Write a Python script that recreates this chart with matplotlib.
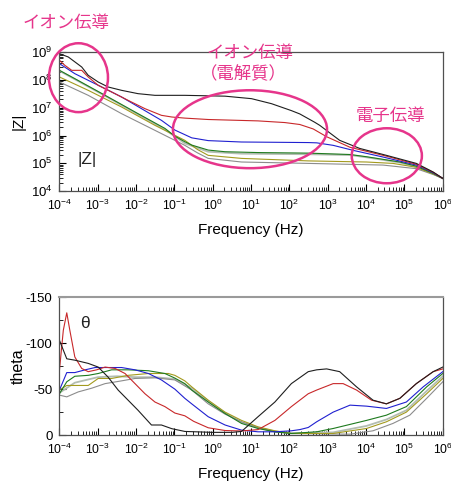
import numpy as np
import matplotlib
matplotlib.use("Agg")
import matplotlib.pyplot as plt
from matplotlib.patches import Ellipse
from matplotlib.ticker import LogLocator, MultipleLocator

plt.rcParams['font.family'] = ['Liberation Sans', 'DejaVu Sans']
plt.rcParams['mathtext.fontset'] = 'custom'
plt.rcParams['mathtext.rm'] = 'Liberation Sans'
plt.rcParams['mathtext.it'] = 'Liberation Sans:italic'
plt.rcParams['axes.unicode_minus'] = False

# ---- |Z| : log10(freq), log10(|Z|) ----
zf_black = [-4, -3.77, -3.42, -3.25, -2.99, -2.73, -2.38, -1.95, -1.51, -0.73, 0.32, 1.01, 1.53, 2.05, 2.27, 2.66, 2.79, 3.31, 3.83, 4.53, 5.31, 5.75, 6.0]
z_black = [8.95, 8.83, 8.47, 8.17, 7.93, 7.75, 7.63, 7.51, 7.45, 7.45, 7.42, 7.33, 7.15, 6.9, 6.78, 6.48, 6.37, 5.83, 5.54, 5.29, 5.0, 4.69, 4.46]

zf_red = [-4, -3.86, -3.68, -3.42, -3.25, -2.99, -2.64, -2.21, -1.77, -1.34, -1.07, -0.73, -0.12, 1.18, 1.88, 2.27, 2.62, 2.97, 3.58, 4.53, 5.31, 5.75, 6.0]
z_red = [8.71, 8.53, 8.35, 8.35, 8.11, 7.81, 7.57, 7.27, 6.97, 6.73, 6.67, 6.63, 6.58, 6.53, 6.47, 6.40, 6.24, 5.96, 5.58, 5.26, 4.97, 4.68, 4.46]

zf_blue = [-4, -3.6, -3.25, -2.81, -2.38, -1.86, -1.34, -0.99, -0.55, -0.12, 0.75, 2.49, 2.71, 3.14, 3.66, 4.44, 5.31, 5.75, 6.0]
z_blue = [8.59, 8.23, 7.99, 7.69, 7.39, 6.97, 6.55, 6.2, 5.92, 5.82, 5.77, 5.75, 5.74, 5.65, 5.47, 5.23, 4.94, 4.66, 4.46]

zf_green = [-4, -3.6, -2.81, -1.95, -1.25, -0.99, -0.73, -0.55, -0.12, 0.32, 1.18, 2.49, 3.58, 4.01, 4.88, 5.31, 5.75, 6.0]
z_green = [8.35, 8.05, 7.45, 6.79, 6.26, 5.98, 5.78, 5.66, 5.48, 5.42, 5.39, 5.37, 5.32, 5.24, 5.05, 4.9, 4.64, 4.46]

zf_sage = [-4, -3.6, -2.81, -1.95, -1.25, -0.73, -0.12, 0.75, 2.49, 3.58, 4.01, 4.88, 5.31, 5.75, 6.0]
z_sage = [8.33, 8.03, 7.43, 6.76, 6.22, 5.72, 5.42, 5.35, 5.33, 5.3, 5.22, 5.03, 4.88, 4.63, 4.46]

zf_olive = [-4, -3.25, -2.38, -1.51, -0.73, -0.4, -0.12, 0.75, 2.49, 4.01, 4.7, 5.31, 5.75, 6.0]
z_olive = [8.11, 7.63, 7.03, 6.37, 5.83, 5.5, 5.29, 5.18, 5.09, 5.05, 5.0, 4.86, 4.62, 4.46]

zf_gray = [-4, -3.25, -2.38, -1.51, -0.73, -0.4, -0.12, 0.75, 2.49, 4.44, 5.31, 5.75, 6.0]
z_gray = [7.93, 7.45, 6.79, 6.19, 5.65, 5.38, 5.18, 5.05, 5.0, 4.94, 4.81, 4.6, 4.46]

# ---- theta (deg) ----
tf_black = [-4, -3.81, -3.6, -3.25, -2.99, -2.73, -2.47, -2.21, -1.95, -1.6, -1.34, -1.07, -0.73, 0, 0.5, 0.75, 1.18, 1.62, 2.05, 2.49, 2.71, 2.97, 3.31, 3.75, 4.18, 4.53, 4.88, 5.31, 5.75, 6.0]
t_black = [-103, -83, -81.5, -78, -74, -63, -49, -38, -27, -11, -11, -7, -4, -3, -3, -4, -20, -36, -56, -69, -71, -72, -69, -52.5, -38, -34, -40, -56, -69, -74]

tf_red = [-4, -3.9, -3.81, -3.73, -3.6, -3.42, -3.25, -3.03, -2.81, -2.55, -2.29, -2.03, -1.77, -1.51, -1.25, -0.99, -0.73, -0.5, -0.12, 0.32, 0.75, 1.18, 1.62, 2.05, 2.49, 2.71, 3.14, 3.4, 3.75, 4.14, 4.53, 4.88, 5.31, 5.75, 6.0]
t_red = [-71, -114, -133, -114, -85, -72.5, -69, -71, -74, -72.5, -67, -56, -45, -36, -31, -24, -21, -15, -8, -5, -4.5, -6, -16, -31, -45, -49, -56, -56, -49, -38, -34, -40, -56, -69, -72]

tf_blue = [-4, -3.81, -3.6, -3.33, -3.07, -2.73, -2.38, -2.03, -1.68, -1.34, -0.99, -0.73, -0.55, -0.12, 0.32, 0.75, 1.18, 1.62, 2.05, 2.27, 2.49, 2.71, 3.14, 3.58, 4.01, 4.53, 5.05, 5.49, 6.0]
t_blue = [-49, -68, -68, -71, -73.5, -73.5, -73.5, -71, -67, -60, -50, -40, -34, -20, -11, -5.4, -3.6, -3.6, -4.7, -6, -8.3, -14.5, -25, -32.6, -31.5, -29, -36, -52.5, -69]

tf_green = [-4, -3.81, -3.6, -3.25, -2.99, -2.64, -2.21, -1.68, -1.25, -0.99, -0.73, -0.55, -0.12, 0.32, 0.75, 1.18, 1.62, 2.05, 2.71, 3.14, 4.01, 4.53, 5.05, 5.58, 6.0]
t_green = [-45, -58, -64, -65, -67, -71, -71, -70, -67, -62, -56, -49, -36, -23.5, -12.7, -7.2, -3.6, -1.8, -3.6, -7.2, -16, -21.7, -31, -52.5, -67]

tf_sage = [-4, -3.6, -3.0, -2.5, -2.0, -1.5, -1.0, -0.55, -0.12, 0.32, 0.75, 1.18, 1.62, 2.05, 3.14, 4.01, 4.53, 5.05, 5.58, 6.0]
t_sage = [-46, -57, -63, -64, -63, -63, -61, -51, -37, -24, -14, -8, -4, -2, -3, -10, -17, -27, -48, -64]

tf_olive = [-4, -3.81, -3.51, -3.25, -2.99, -2.64, -2.21, -1.68, -1.16, -0.99, -0.73, -0.55, -0.12, 0.32, 0.75, 1.18, 1.62, 2.05, 3.14, 4.01, 4.53, 5.05, 5.58, 6.0]
t_olive = [-49, -54, -54, -54, -61.6, -61.6, -65, -67, -67, -65, -59, -52.5, -38, -25, -16, -9, -4.7, -1.8, -1.8, -7.2, -14.5, -25, -45, -61.6]

tf_gray = [-4, -3.81, -3.51, -3.16, -2.81, -2.38, -2.03, -1.51, -0.99, -0.55, -0.12, 0.32, 0.75, 1.18, 1.62, 2.05, 3.58, 4.18, 4.7, 5.14, 5.58, 6.0]
t_gray = [-43.5, -41.6, -47, -51, -56, -59, -61.6, -62.3, -60, -49, -34, -22.8, -14.5, -8.3, -3.6, -1.8, -1, -4.7, -12.7, -21.7, -40, -58]

colors = {
    'sage': '#b3bdb2', 'gray': '#8c8c8c', 'olive': '#a39a1e', 'green': '#1e7a1e',
    'blue': '#2020d0', 'red': '#c8282a', 'black': '#1e1e1e',
}
z_series = [('sage', zf_sage, z_sage), ('gray', zf_gray, z_gray), ('olive', zf_olive, z_olive),
            ('green', zf_green, z_green), ('blue', zf_blue, z_blue), ('red', zf_red, z_red),
            ('black', zf_black, z_black)]
t_series = [('sage', tf_sage, t_sage), ('gray', tf_gray, t_gray), ('olive', tf_olive, t_olive),
            ('green', tf_green, t_green), ('blue', tf_blue, t_blue), ('red', tf_red, t_red),
            ('black', tf_black, t_black)]

pink = '#e6358b'

fig = plt.figure(figsize=(4.52, 4.84), dpi=100)
ax1 = fig.add_axes([0.1316, 0.605, 0.848, 0.287])
ax2 = fig.add_axes([0.1316, 0.101, 0.848, 0.285])

for name, f, v in z_series:
    lw = 1.3 if name == 'sage' else 0.8
    ax1.plot(10.0 ** np.array(f), 10.0 ** np.array(v), color=colors[name], lw=lw)
for name, f, v in t_series:
    lw = 1.3 if name == 'sage' else 0.8
    ax2.plot(10.0 ** np.array(f), v, color=colors[name], lw=lw)

xt = [10.0 ** k for k in range(-4, 7)]
for ax in (ax1, ax2):
    ax.set_xscale('log')
    ax.set_xlim(1e-4, 1e6)
    ax.set_xticks(xt)
    ax.xaxis.set_minor_locator(LogLocator(base=10, subs=np.arange(2, 10), numticks=100))
    ax.tick_params(which='both', direction='in', top=False, right=False, pad=5)
    ax.tick_params(axis='x', labelsize=8.7)
    ax.tick_params(axis='y', labelsize=9.5)
    ax.tick_params(which='major', length=5, width=0.8)
    ax.tick_params(which='minor', length=3, width=0.6)
    ax.set_xlabel('Frequency (Hz)', fontsize=11, labelpad=7)
    for s in ax.spines.values():
        s.set_color('#505050')
        s.set_linewidth(0.9)

ax1.set_yscale('log')
ax1.set_ylim(1e4, 1e9)
ax1.set_yticks([10.0 ** k for k in range(4, 10)])
ax1.yaxis.set_minor_locator(LogLocator(base=10, subs=np.arange(2, 10), numticks=100))
ax1.set_ylabel('|Z|', fontsize=11, labelpad=4)

ax2.set_ylim(0, -150)
ax2.set_yticks([-150, -100, -50, 0])
ax2.yaxis.set_minor_locator(MultipleLocator(25))
ax2.set_ylabel('theta', fontsize=11.5, labelpad=0)
ax2.spines['top'].set_color('#9a9a9a')
ax2.spines['top'].set_linewidth(1.5)

# highlighted regions on the |Z| plot
for cx, cy, w, h in [(0.0495, 0.817, 0.154, 0.496), (0.497, 0.446, 0.402, 0.561), (0.854, 0.255, 0.183, 0.396)]:
    ax1.add_patch(Ellipse((cx, cy), w, h, transform=ax1.transAxes, fill=False,
                          edgecolor=pink, lw=1.8, clip_on=False, zorder=5))

jp = ['Noto Sans CJK JP', 'DejaVu Sans']
fig.text(66 / 452, 1 - 22.5 / 484, 'イオン伝導', color=pink, fontsize=12.5, family=jp, ha='center', va='center')
fig.text(250 / 452, 1 - 52.5 / 484, 'イオン伝導', color=pink, fontsize=12.5, family=jp, ha='center', va='center')
fig.text(243 / 452, 1 - 74.5 / 484, '（電解質）', color=pink, fontsize=12.5, family=jp, ha='center', va='center')
fig.text(390 / 452, 1 - 116 / 484, '電子伝導', color=pink, fontsize=12.5, family=jp, ha='center', va='center')
fig.text(87.5 / 452, 1 - 159.5 / 484, '|Z|', color='#222222', fontsize=12.5, ha='center', va='center')
fig.text(85 / 452, 1 - 323.5 / 484, 'θ', color='#222222', fontsize=12.5, ha='center', va='center')

fig.savefig('out.png', dpi=100)
